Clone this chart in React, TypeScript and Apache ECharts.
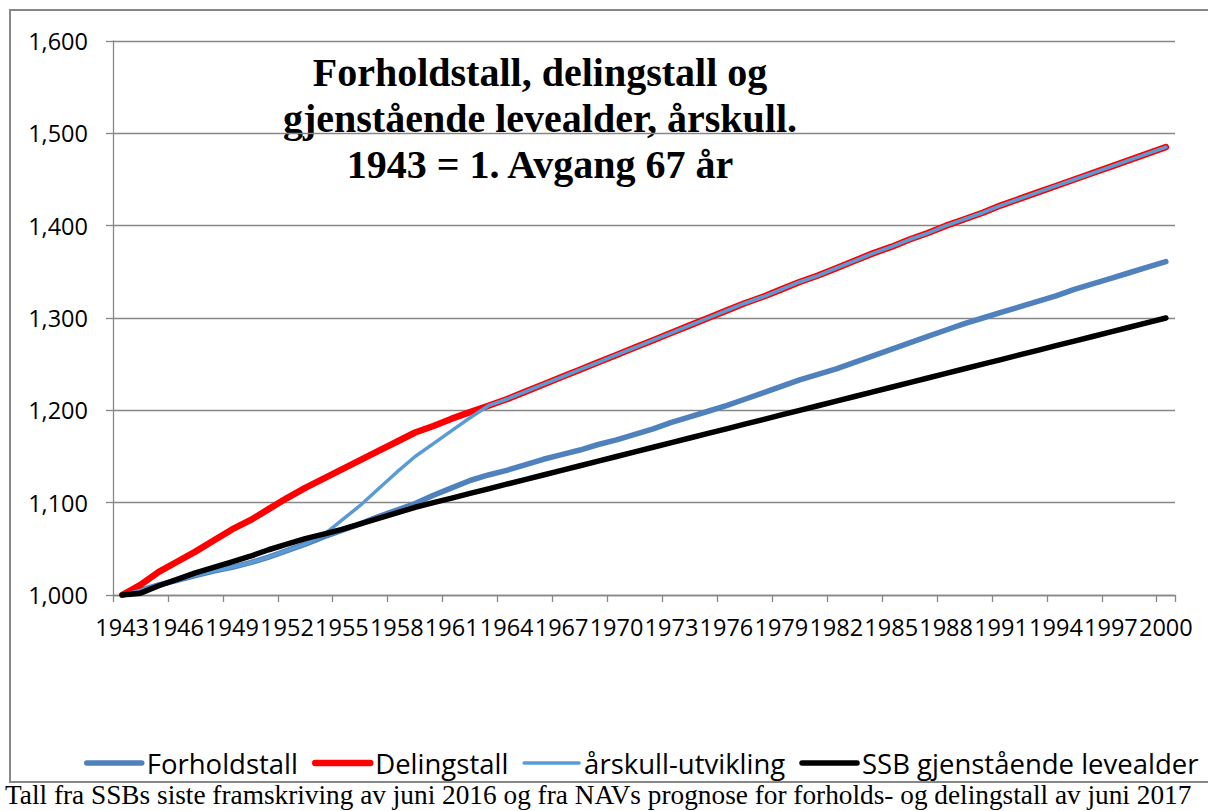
import React, { useEffect, useRef } from "react";
import * as echarts from "echarts";

const years = [
  "1943", "1944", "1945", "1946", "1947", "1948", "1949", "1950", "1951", "1952",
  "1953", "1954", "1955", "1956", "1957", "1958", "1959", "1960", "1961", "1962",
  "1963", "1964", "1965", "1966", "1967", "1968", "1969", "1970", "1971", "1972",
  "1973", "1974", "1975", "1976", "1977", "1978", "1979", "1980", "1981", "1982",
  "1983", "1984", "1985", "1986", "1987", "1988", "1989", "1990", "1991", "1992",
  "1993", "1994", "1995", "1996", "1997", "1998", "1999", "2000",
];

const forholdstall = [
  1.0, 1.005, 1.011, 1.016, 1.021, 1.026, 1.03, 1.035, 1.041, 1.048,
  1.055, 1.063, 1.07, 1.077, 1.085, 1.092, 1.099, 1.108, 1.116, 1.124,
  1.13, 1.135, 1.141, 1.147, 1.152, 1.157, 1.163, 1.168, 1.174, 1.18,
  1.187, 1.193, 1.199, 1.205, 1.212, 1.219, 1.226, 1.233, 1.239, 1.245,
  1.252, 1.259, 1.266, 1.273, 1.28, 1.287, 1.294, 1.3, 1.306, 1.312,
  1.318, 1.324, 1.331, 1.337, 1.343, 1.349, 1.355, 1.361,
];

const delingstall = [
  1.0, 1.011, 1.025, 1.036, 1.047, 1.059, 1.071, 1.081, 1.093, 1.105,
  1.116, 1.126, 1.136, 1.146, 1.156, 1.166, 1.176, 1.183, 1.191, 1.198,
  1.205, 1.212, 1.22, 1.228, 1.236, 1.244, 1.252, 1.26, 1.268, 1.276,
  1.284, 1.292, 1.3, 1.308, 1.316, 1.323, 1.331, 1.339, 1.346, 1.354,
  1.362, 1.37, 1.377, 1.385, 1.392, 1.4, 1.407, 1.414, 1.422, 1.429,
  1.436, 1.443, 1.45, 1.457, 1.464, 1.471, 1.478, 1.485,
];

const aarskull = [
  1.0, 1.005, 1.011, 1.016, 1.021, 1.026, 1.03, 1.035, 1.041, 1.048,
  1.055, 1.065, 1.081, 1.097, 1.115, 1.133, 1.15, 1.164, 1.178, 1.192,
  1.205, 1.212, 1.22, 1.228, 1.236, 1.244, 1.252, 1.26, 1.268, 1.276,
  1.284, 1.292, 1.3, 1.308, 1.316, 1.323, 1.331, 1.339, 1.346, 1.354,
  1.362, 1.37, 1.377, 1.385, 1.392, 1.4, 1.407, 1.414, 1.422, 1.429,
  1.436, 1.443, 1.45, 1.457, 1.464, 1.471, 1.478, 1.485,
];

const ssb = [
  1.0, 1.002, 1.01, 1.017, 1.024, 1.03, 1.036, 1.042, 1.049, 1.055,
  1.061, 1.066, 1.071, 1.077, 1.083, 1.089, 1.095, 1.1, 1.105, 1.11,
  1.115, 1.12, 1.125, 1.13, 1.135, 1.14, 1.145, 1.15, 1.155, 1.16,
  1.165, 1.17, 1.175, 1.18, 1.185, 1.19, 1.195, 1.2, 1.205, 1.21,
  1.215, 1.22, 1.225, 1.23, 1.235, 1.24, 1.245, 1.25, 1.255, 1.26,
  1.265, 1.27, 1.275, 1.28, 1.285, 1.29, 1.295, 1.3,
];

const seriesNames = ["Forholdstall", "Delingstall", "årskull-utvikling", "SSB gjenstående levealder"];
const seriesColors = ["#4F81BD", "#FF0000", "#5B9BD5", "#000000"];
const seriesWidths = [5.5, 6.5, 3.5, 5.5];
const titleLines = ["Forholdstall, delingstall og", "gjenstående levealder, årskull.", "1943 = 1. Avgang 67 år"];
const footnote = "Tall fra SSBs siste framskriving av juni 2016 og fra NAVs prognose for forholds- og delingstall av juni 2017";

const GRAY = "#878787";
const SANS = "'Open Sans', 'DejaVu Sans', sans-serif";
const SERIF = "'Liberation Serif', 'DejaVu Serif', serif";

export default function App() {
  const ref = useRef<HTMLDivElement>(null);

  useEffect(() => {
    if (!ref.current) return;
    const chart = echarts.init(ref.current, undefined, { renderer: "svg" });
    const datasets = [forholdstall, delingstall, aarskull, ssb];
    chart.setOption({
      animation: false,
      backgroundColor: "#ffffff",
      grid: { left: 113, right: 33, top: 41, bottom: 216, containLabel: false },
      xAxis: {
        type: "category",
        data: years,
        boundaryGap: true,
        axisLine: { show: true, lineStyle: { color: GRAY, width: 1.3 } },
        axisTick: { show: true, interval: 2, length: 7, lineStyle: { color: GRAY, width: 1.3 } },
        axisLabel: { interval: 2, margin: 20, color: "#000", fontFamily: SANS, fontSize: 23.5 },
        splitLine: { show: false },
      },
      yAxis: {
        type: "value",
        min: 1,
        max: 1.6,
        interval: 0.1,
        axisLine: { show: true, lineStyle: { color: GRAY, width: 1.3 } },
        axisTick: { show: true, length: 7, lineStyle: { color: GRAY, width: 1.3 } },
        axisLabel: {
          margin: 25,
          color: "#000",
          fontFamily: SANS,
          fontSize: 23.5,
          formatter: (v: number) => v.toFixed(3).replace(".", ","),
        },
        splitLine: { show: true, lineStyle: { color: GRAY, width: 1.3 } },
      },
      legend: {
        data: seriesNames.map((name, i) => ({
          name,
          lineStyle: { color: seriesColors[i], width: seriesWidths[i], cap: "round" },
        })),
        orient: "horizontal",
        left: 84,
        top: 749,
        width: 1124,
        padding: 0,
        itemWidth: 55,
        itemHeight: 14,
        itemGap: 14,
        itemStyle: { opacity: 0 },
        textStyle: { color: "#000", fontFamily: SANS, fontSize: 27.5 },
        selectedMode: false,
      },
      series: seriesNames.map((name, i) => ({
        name,
        type: "line",
        data: datasets[i],
        showSymbol: false,
        symbol: "none",
        smooth: false,
        color: seriesColors[i],
        lineStyle: { color: seriesColors[i], width: seriesWidths[i], cap: "round", join: "round" },
        emphasis: { disabled: true },
      })),
      graphic: [
        {
          type: "rect",
          shape: { x: 10, y: 10, width: 1210, height: 772 },
          style: { fill: "none", stroke: GRAY, lineWidth: 2 },
          z: -1,
          silent: true,
        },
        {
          type: "text",
          x: 540,
          y: 118,
          style: {
            text: titleLines.join("\n"),
            fontFamily: SERIF,
            fontWeight: "bold",
            fontSize: 40,
            lineHeight: 46,
            fill: "#000",
            align: "center",
            verticalAlign: "middle",
          },
          silent: true,
        },
        {
          type: "text",
          x: 5,
          y: 795,
          style: {
            text: footnote,
            fontFamily: SERIF,
            fontSize: 27.3,
            lineHeight: 27,
            fill: "#000",
            align: "left",
            verticalAlign: "middle",
          },
          silent: true,
        },
      ],
    });
    return () => chart.dispose();
  }, []);

  return (
    <div
      ref={ref}
      style={{ position: "fixed", left: 0, top: 0, width: 1208, height: 811, background: "#fff" }}
    />
  );
}
